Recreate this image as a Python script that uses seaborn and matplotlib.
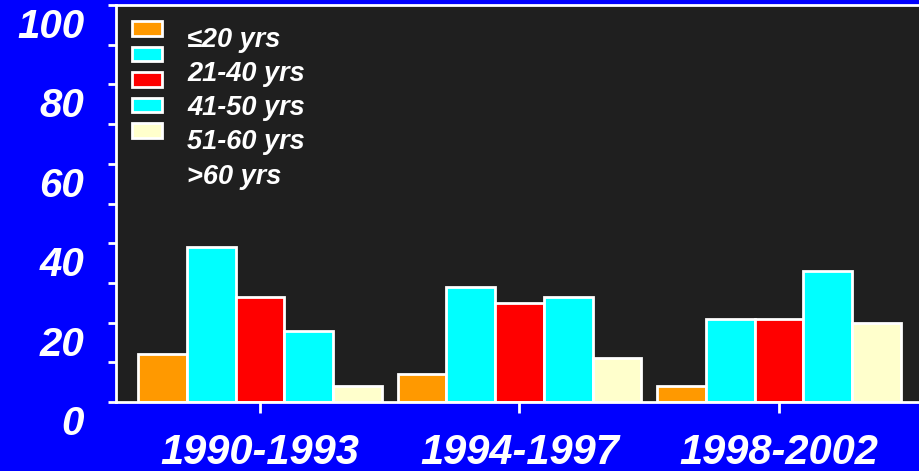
import matplotlib
matplotlib.use("Agg")
import matplotlib.pyplot as plt
from matplotlib.patches import Patch
from matplotlib.transforms import ScaledTranslation
import numpy as np
import pandas as pd
import seaborn as sns

# Share of cases by age group in each period (%)
periods = ["1990-1993", "1994-1997", "1998-2002"]
age_groups = ["≤20 yrs", "21-40 yrs", "41-50 yrs", "51-60 yrs", ">60 yrs"]
age_le20 = [12, 7, 4]
age_21_40 = [39, 29, 21]
age_41_50 = [26.5, 25, 21]
age_51_60 = [18, 26.5, 33]
age_gt60 = [4, 11, 20]
bar_colors = ["#FF9900", "#00FFFF", "#FF0000", "#00FFFF", "#FFFFCC"]
y_ticks = [0, 20, 40, 60, 80, 100]

series = [age_le20, age_21_40, age_41_50, age_51_60, age_gt60]
df = pd.DataFrame(
    [(p, g, v) for g, vals in zip(age_groups, series) for p, v in zip(periods, vals)],
    columns=["period", "age", "pct"],
)

sns.set_style("white")
plt.rcParams["font.family"] = ["Liberation Sans", "DejaVu Sans"]

fig = plt.figure(figsize=(9.2, 4.71), dpi=100, facecolor="#0000FF")
ax = fig.add_axes([116 / 920, 69 / 471, 807 / 920, 397 / 471])
ax.set_facecolor("#1F1F1F")

sns.barplot(
    data=df, x="period", y="pct", hue="age", order=periods, hue_order=age_groups,
    palette=dict(zip(age_groups, bar_colors)), saturation=1, width=0.94,
    edgecolor="white", linewidth=2, legend=False, ax=ax,
)

ax.set_xlim(-0.555, 2.555)
ax.set_ylim(0, 100)
ax.set_xlabel("")
ax.set_ylabel("")

for side in ["left", "bottom", "top", "right"]:
    ax.spines[side].set_color("white")
    ax.spines[side].set_linewidth(2)
    ax.spines[side].set_visible(True)

ax.set_yticks(y_ticks)
ax.set_yticks(np.arange(10, 100, 20), minor=True)
ax.set_yticklabels([str(t) for t in y_ticks])
ax.tick_params(axis="y", which="both", direction="out", length=6, width=2,
               color="white", left=True)
ax.tick_params(axis="y", which="major", pad=17, labelcolor="white", labelsize=29)
ax.tick_params(axis="x", direction="out", length=8, width=2, color="white",
               bottom=True, pad=14, labelcolor="white", labelsize=30)
for lab in ax.get_yticklabels() + ax.get_xticklabels():
    lab.set_fontweight("bold")
    lab.set_fontstyle("italic")
shift = ScaledTranslation(0, -0.18, fig.dpi_scale_trans)
for lab in ax.get_yticklabels():
    lab.set_transform(lab.get_transform() + shift)

# Colour key: swatches and names sit in two stacked columns
swatches = [Patch(facecolor=c, edgecolor="white", linewidth=2) for c in bar_colors]
key_boxes = ax.legend(
    swatches, [""] * len(swatches), loc="upper left",
    bbox_to_anchor=(132 / 920, 1 - 21 / 471), bbox_transform=fig.transFigure,
    frameon=False, borderpad=0, borderaxespad=0, fontsize=11,
    handlelength=1.95, handleheight=1.11, handletextpad=0, labelspacing=0.65,
)
ax.add_artist(key_boxes)
blank = [Patch(facecolor="none", edgecolor="none") for _ in age_groups]
key_names = ax.legend(
    blank, age_groups, loc="upper left",
    bbox_to_anchor=(187 / 920, 1 - 27 / 471), bbox_transform=fig.transFigure,
    frameon=False, borderpad=0, borderaxespad=0, handlelength=0, handletextpad=0,
    labelspacing=0.30, prop={"size": 19.5, "weight": "bold", "style": "italic"},
    labelcolor="white",
)

fig.savefig("out.png", dpi=100, facecolor=fig.get_facecolor())
